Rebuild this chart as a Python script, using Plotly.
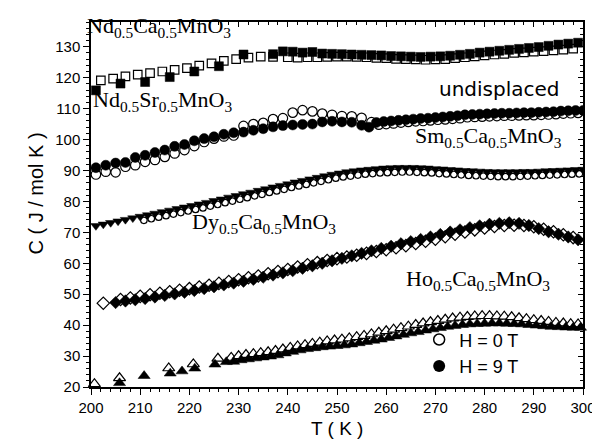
import plotly.graph_objects as go

# ---------------- data ----------------
# Nd0.5Ca0.5MnO3 (squares)
ndca_T_0T = [202, 204.5, 207, 209.5, 212, 214.5, 217, 219.5, 222, 224.5, 227, 229.5, 232, 234.5, 237, 240, 242, 244, 246, 248,
             250, 252, 254, 256, 258, 260, 262, 264, 266, 268, 270, 272, 274, 276, 278, 280, 282, 284, 286, 288,
             290, 292, 294, 296, 298]
ndca_C_0T = [119.1, 119.7, 120.4, 121.0, 121.5, 122.0, 122.5, 123.1, 123.9, 124.6, 125.4, 126.0, 126.5, 126.8, 126.7, 126.6, 126.5, 126.6, 126.6, 126.7,
             126.8, 126.8, 126.7, 126.6, 126.4, 126.3, 126.1, 126.0, 125.9, 125.8, 125.9, 126.0, 126.3, 126.6, 126.9, 127.2, 127.5, 127.7, 128.0, 128.2,
             128.4, 128.6, 128.8, 129.1, 129.4]
ndca_T_9T = [201, 206, 211, 216, 221, 226, 231, 237, 239, 241, 243, 245, 247, 249, 251, 253, 255, 257, 259, 261,
             263, 265, 267, 269, 271, 273, 275, 277, 279, 281, 283, 285, 287, 289, 291, 293, 295, 297, 299]
ndca_C_9T = [115.9, 118.1, 118.6, 120.2, 122.0, 123.7, 127.5, 127.6, 128.5, 128.4, 128.1, 128.3, 127.8, 127.7, 127.6, 127.5, 127.4, 127.3, 127.2, 127.0,
             126.9, 126.8, 126.7, 126.8, 126.9, 127.1, 127.4, 127.7, 128.1, 128.4, 128.7, 129.0, 129.3, 129.6, 129.9, 130.3, 130.7, 131.0, 131.3]

# Nd0.5Sr0.5MnO3 (circles)
ndsr_T_0T = [201, 203, 205, 207, 209, 211, 213, 215, 217, 219, 221, 223, 225, 227, 229, 231, 233, 235, 237, 239,
             241, 243, 245, 247, 249, 251, 253, 255, 257, 258.5, 260, 261.5, 263, 264.5, 266, 267.5, 269, 270.5, 272, 273.5,
             275, 276.5, 278, 279.5, 281, 282.5, 284, 285.5, 287, 288.5, 290, 291.5, 293, 294.5, 296, 297.5, 299]
ndsr_C_0T = [88.7, 89.6, 89.4, 91.2, 91.7, 92.8, 93.4, 94.4, 95.5, 96.6, 97.9, 99.2, 100.3, 101.0, 101.3, 104.4, 105.0, 105.4, 106.6, 106.9,
             108.7, 109.5, 109.1, 108.4, 108.0, 107.6, 107.5, 107.0, 105.6, 104.8, 105.0, 105.2, 105.5, 105.7, 105.9, 106.0, 106.2, 106.4, 106.5, 106.7,
             106.9, 107.2, 107.3, 107.4, 107.5, 107.6, 107.7, 107.7, 107.8, 107.9, 107.9, 108.0, 108.1, 108.2, 108.4, 108.5, 108.6]
ndsr_T_9T = [201, 203, 205, 207, 209, 211, 213, 215, 217, 219, 221, 223, 225, 227, 229, 231, 233, 235, 237, 239,
             241, 243, 245, 247, 249, 251, 253, 255, 256.5, 258, 259.5, 261, 262.5, 264, 265.5, 267, 268.5, 270, 271.5, 273,
             274.5, 276, 277.5, 279, 280.5, 282, 283.5, 285, 286.5, 288, 289.5, 291, 292.5, 294, 295.5, 297, 298.5, 300]
ndsr_C_9T = [90.9, 91.7, 92.4, 92.6, 94.2, 94.9, 95.8, 96.6, 97.8, 98.4, 99.6, 100.3, 100.9, 101.7, 102.2, 102.4, 103.0, 103.5, 104.1, 104.5,
             104.7, 104.9, 105.0, 105.7, 105.9, 105.7, 105.6, 104.6, 104.0, 105.5, 105.8, 106.0, 106.2, 106.4, 106.6, 106.8, 106.9, 107.1, 107.3, 107.5,
             107.7, 108.0, 108.1, 108.2, 108.3, 108.4, 108.5, 108.5, 108.6, 108.7, 108.7, 108.8, 108.9, 109.0, 109.2, 109.3, 109.4, 109.4]

# Sm0.5Ca0.5MnO3 (open circles / filled down-triangles)
sm_T_0T = [210.75, 212.25, 213.75, 215.25, 216.75, 218.25, 219.75, 221.25, 222.75, 224.25, 225.75, 227.25, 228.75, 230.25, 231.75,
           233.25, 234.75, 236.25, 237.75, 239.25, 240.75, 242.25, 243.75, 245.25, 246.75, 248.25, 249.75, 251.25, 252.75, 254.25,
           255.75, 257.25, 258.75, 260.25, 261.75, 263.25, 264.75, 266.25, 267.75, 269.25, 270.75, 272.25, 273.75, 275.25, 276.75,
           278.25, 279.75, 281.25, 282.75, 284.25, 285.75, 287.25, 288.75, 290.25, 291.75, 293.25, 294.75, 296.25, 297.75, 299.25]
sm_C_0T = [73.9, 74.4, 74.9, 75.4, 75.9, 76.4, 76.9, 77.4, 77.9, 78.5, 79.0, 79.6, 80.1, 80.7, 81.2,
           81.8, 82.3, 82.9, 83.4, 83.9, 84.5, 85.0, 85.5, 86.0, 86.5, 87.0, 87.5, 87.9, 88.2, 88.5,
           88.8, 89.0, 89.2, 89.3, 89.4, 89.5, 89.5, 89.4, 89.3, 89.2, 89.0, 88.9, 88.7, 88.6, 88.4,
           88.3, 88.2, 88.1, 88.0, 88.0, 88.0, 88.1, 88.2, 88.3, 88.4, 88.5, 88.6, 88.7, 88.8, 88.9]
sm_T_9T = [201, 202.5, 204, 205.5, 207, 208.5, 210, 211.5, 213, 214.5, 216, 217.5, 219, 220.5, 222, 223.5, 225, 226.5, 228, 229.5,
           231, 232.5, 234, 235.5, 237, 238.5, 240, 241.5, 243, 244.5, 246, 247.5, 249, 250.5, 252, 253.5, 255, 256.5, 258, 259.5,
           261, 262.5, 264, 265.5, 267, 268.5, 270, 271.5, 273, 274.5, 276, 277.5, 279, 280.5, 282, 283.5, 285, 286.5, 288, 289.5,
           291, 292.5, 294, 295.5, 297, 298.5, 300]
sm_C_9T = [72.1, 72.6, 73.1, 73.6, 74.1, 74.6, 75.1, 75.6, 76.1, 76.6, 77.1, 77.6, 78.1, 78.6, 79.1, 79.6, 80.2, 80.7, 81.3, 81.8,
           82.4, 82.9, 83.5, 84.0, 84.6, 85.1, 85.6, 86.2, 86.7, 87.2, 87.7, 88.2, 88.7, 89.1, 89.5, 89.8, 90.1, 90.3, 90.5, 90.7,
           90.8, 90.9, 90.9, 90.9, 90.8, 90.7, 90.5, 90.4, 90.2, 90.1, 89.9, 89.8, 89.7, 89.6, 89.5, 89.5, 89.5, 89.5, 89.6, 89.6,
           89.7, 89.8, 89.9, 90.0, 90.1, 90.2, 90.3]

# Dy0.5Ca0.5MnO3 (diamonds)
dy_T_0T = [202.5, 206, 208, 210, 212, 214, 216, 218, 220, 222, 224, 226, 228, 230, 232, 234, 236, 238, 240, 242,
           244, 246, 248, 250, 252, 254, 256, 258, 260, 262, 264, 266, 268, 270, 272, 274, 276, 278, 280, 282,
           284, 286, 288, 290, 292, 294, 296, 298]
dy_C_0T = [47.1, 48.3, 48.8, 49.3, 49.8, 50.3, 50.8, 51.3, 51.8, 52.3, 52.9, 53.5, 54.1, 54.7, 55.3, 55.9, 56.6, 57.3, 58.0, 58.8,
           59.5, 60.2, 60.9, 61.5, 62.0, 62.6, 63.2, 63.8, 64.4, 65.0, 65.7, 66.4, 67.1, 67.8, 68.6, 69.4, 70.1, 70.8, 71.4, 71.9,
           72.2, 72.3, 72.2, 71.8, 71.0, 70.2, 69.2, 68.3]
dy_T_9T = [205, 207, 209, 211, 213, 215, 217, 219, 221, 223, 225, 227, 229, 231, 233, 235, 237, 239, 241, 243,
           245, 247, 249, 251, 253, 255, 257, 259, 261, 263, 265, 267, 269, 271, 273, 275, 277, 279, 281, 283,
           285, 287, 289, 291, 293, 295, 297, 299]
dy_C_9T = [47.3, 47.8, 48.2, 48.6, 49.1, 49.6, 50.1, 50.6, 51.2, 51.8, 52.4, 53.0, 53.6, 54.2, 54.8, 55.5, 56.2, 56.9, 57.6, 58.4,
           59.2, 60.0, 60.8, 61.6, 62.4, 63.2, 64.0, 64.8, 65.5, 66.3, 67.0, 67.7, 68.5, 69.3, 70.1, 70.8, 71.5, 72.1, 72.6, 72.9,
           73.1, 72.9, 72.2, 71.2, 70.2, 69.4, 68.5, 67.6]

# Ho0.5Ca0.5MnO3 (up-triangles)
ho_T_0T = [200.7, 205.8, 215.8, 220.8, 225.8, 228.5, 230, 231.5, 233, 234.5, 236, 237.5, 239, 240.5, 242, 243.5, 245, 246.5, 248, 249.5,
           251, 252.5, 254, 255.5, 257, 258.5, 260, 261.5, 263, 264.5, 266, 267.5, 269, 270.5, 272, 273.5, 275, 276.5, 278, 279.5,
           281, 282.5, 284, 285.5, 287, 288.5, 290, 291.5, 293, 294.5, 296, 297.5, 299]
ho_C_0T = [21.0, 22.9, 26.1, 27.4, 29.2, 29.5, 30.0, 30.4, 30.7, 31.0, 31.3, 31.7, 32.2, 32.7, 33.2, 33.6, 34.0, 34.4, 34.8, 35.1,
           35.4, 35.8, 36.2, 36.6, 37.1, 37.6, 38.1, 38.6, 39.1, 39.6, 40.1, 40.6, 41.0, 41.4, 41.8, 42.2, 42.5, 42.7, 42.9, 43.0,
           43.0, 42.9, 42.8, 42.6, 42.3, 42.0, 41.7, 41.4, 41.1, 40.8, 40.6, 40.4, 40.3]
ho_T_9T = [205.8, 210.8, 216.1, 218.5, 221.1, 225.2, 227.5, 229, 230.5, 232, 233.5, 235, 236.5, 238, 239.5, 241, 242.5, 244, 245.5, 247,
           248.5, 250, 251.5, 253, 254.5, 256, 257.5, 259, 260.5, 262, 263.5, 265, 266.5, 268, 269.5, 271, 272.5, 274, 275.5, 277,
           278.5, 280, 281.5, 283, 284.5, 286, 287.5, 289, 290.5, 292, 293.5, 295, 296.5, 298, 299.5]
ho_C_9T = [21.3, 23.6, 24.4, 25.1, 26.0, 27.3, 28.1, 28.2, 28.7, 29.0, 29.3, 29.6, 29.9, 30.3, 30.9, 31.4, 31.9, 32.3, 32.6, 32.9,
           33.1, 33.3, 33.5, 33.8, 34.2, 34.6, 35.0, 35.4, 35.9, 36.4, 36.9, 37.4, 37.8, 38.3, 38.7, 39.1, 39.5, 39.8, 40.1, 40.3,
           40.4, 40.5, 40.6, 40.6, 40.5, 40.4, 40.3, 40.1, 39.9, 39.7, 39.5, 39.4, 39.3, 39.2, 39.2]

# text labels (compound names) and their anchor points (T, C)
label_texts = ["Nd<sub>0.5</sub>Ca<sub>0.5</sub>MnO<sub>3</sub>",
               "Nd<sub>0.5</sub>Sr<sub>0.5</sub>MnO<sub>3</sub>",
               "Sm<sub>0.5</sub>Ca<sub>0.5</sub>MnO<sub>3</sub>",
               "Dy<sub>0.5</sub>Ca<sub>0.5</sub>MnO<sub>3</sub>",
               "Ho<sub>0.5</sub>Ca<sub>0.5</sub>MnO<sub>3</sub>"]
label_T = [200.0, 200.1, 265.5, 220.2, 263.6]
label_C = [131.3, 107.4, 95.8, 67.8, 49.5]
label_xshift = [-6, 0, 0, 0, 0]

# ---------------- figure ----------------
SANS = "Liberation Sans"
SANS2 = "DejaVu Sans"
SERIF = "Liberation Serif"
BLK = "black"

fig = go.Figure()


def add_pair(T0, C0, T9, C9, sym, size0, size9, clip=True):
    fig.add_trace(go.Scatter(x=T0, y=C0, mode="markers", showlegend=False, cliponaxis=clip,
                             marker=dict(symbol=sym[0], size=size0, color="white",
                                         line=dict(color=BLK, width=1.2))))
    fig.add_trace(go.Scatter(x=T9, y=C9, mode="markers", showlegend=False, cliponaxis=clip,
                             marker=dict(symbol=sym[1], size=size9, color=BLK,
                                         line=dict(color=BLK, width=0.5))))


add_pair(ndca_T_0T, ndca_C_0T, ndca_T_9T, ndca_C_9T, ("square", "square"), 8.5, 9)
add_pair(ndsr_T_0T, ndsr_C_0T, ndsr_T_9T, ndsr_C_9T, ("circle", "circle"), 9.5, 10)
add_pair(sm_T_0T, sm_C_0T, sm_T_9T, sm_C_9T, ("circle", "triangle-down"), 6.5, 9)
add_pair(dy_T_0T, dy_C_0T, dy_T_9T, dy_C_9T, ("diamond", "diamond"), 9.5, 9.5)
add_pair(ho_T_0T, ho_C_0T, ho_T_9T, ho_C_9T, ("triangle-up", "triangle-up"), 10.5, 10.5, clip=False)

# legend entries
fig.add_trace(go.Scatter(x=[None], y=[None], mode="markers", name="H = 0 T",
                         marker=dict(symbol="circle-open", size=11, color=BLK, line=dict(width=1.5))))
fig.add_trace(go.Scatter(x=[None], y=[None], mode="markers", name="H = 9 T",
                         marker=dict(symbol="circle", size=12, color=BLK)))

# trace on the mirror axes so they are drawn (top / right, ticks inside)
fig.add_trace(go.Scatter(x=[250], y=[80], xaxis="x2", yaxis="y2", mode="markers",
                         marker=dict(size=1, opacity=0), showlegend=False, hoverinfo="skip"))

label_font = dict(family=SERIF, size=22, color=BLK)
for txt, lx, ly, sx in zip(label_texts, label_T, label_C, label_xshift):
    fig.add_annotation(x=lx, y=ly, xref="x", yref="y", text=txt, showarrow=False,
                       xanchor="left", yanchor="bottom", xshift=sx, font=label_font)

fig.add_annotation(x=270.4, y=111.8, xref="x", yref="y", text="undisplaced", showarrow=False,
                   xanchor="left", yanchor="bottom", font=dict(family=SANS2, size=20, color=BLK))

# axis titles
fig.add_annotation(x=0.5, y=0, xref="paper", yref="paper", text="T ( K )", showarrow=False,
                   xanchor="center", yanchor="top", yshift=-29, font=dict(family=SANS, size=19, color=BLK))
fig.add_annotation(x=0, y=0.53, xref="paper", yref="paper", text="C ( J / mol K )", showarrow=False,
                   textangle=-90, xanchor="center", yanchor="middle", xshift=-55,
                   font=dict(family=SANS, size=20, color=BLK))

fig.update_layout(
    width=600, height=443,
    margin=dict(l=83, r=19, t=13, b=64),
    paper_bgcolor="white", plot_bgcolor="white",
    xaxis=dict(range=[200, 300], tickmode="linear", tick0=200, dtick=10, ticks="outside", ticklen=6,
               minor=dict(dtick=2, ticks="outside", ticklen=3, tickcolor=BLK, tickwidth=1),
               tickfont=dict(family=SANS, size=15, color=BLK),
               showgrid=False, zeroline=False, showline=True, mirror=True, linecolor=BLK, linewidth=1.5,
               tickcolor=BLK, tickwidth=1.2),
    yaxis=dict(range=[20, 138], tickmode="linear", tick0=20, dtick=10, ticks="outside", ticklen=6,
               minor=dict(dtick=2, ticks="outside", ticklen=3, tickcolor=BLK, tickwidth=1),
               tickfont=dict(family=SANS, size=15, color=BLK),
               showgrid=False, zeroline=False, showline=True, mirror=True, linecolor=BLK, linewidth=1.5,
               tickcolor=BLK, tickwidth=1.2),
    xaxis2=dict(range=[200, 300], overlaying="x", side="top", anchor="y2", tickmode="linear", tick0=200, dtick=10,
                ticks="inside", ticklen=5, showticklabels=False, showgrid=False, zeroline=False, showline=False,
                minor=dict(dtick=2, ticks="inside", ticklen=3, tickcolor=BLK, tickwidth=1),
                tickcolor=BLK, tickwidth=1.2),
    yaxis2=dict(range=[20, 138], overlaying="y", side="right", anchor="x2", tickmode="linear", tick0=20, dtick=10,
                ticks="inside", ticklen=5, showticklabels=False, showgrid=False, zeroline=False, showline=False,
                minor=dict(dtick=2, ticks="inside", ticklen=3, tickcolor=BLK, tickwidth=1),
                tickcolor=BLK, tickwidth=1.2),
    showlegend=True,
    legend=dict(x=0.667, y=0.18, xanchor="left", yanchor="top", bgcolor="rgba(0,0,0,0)",
                font=dict(family=SANS, size=18, color=BLK), itemwidth=30, tracegroupgap=0),
)

fig.write_html("out.html")
